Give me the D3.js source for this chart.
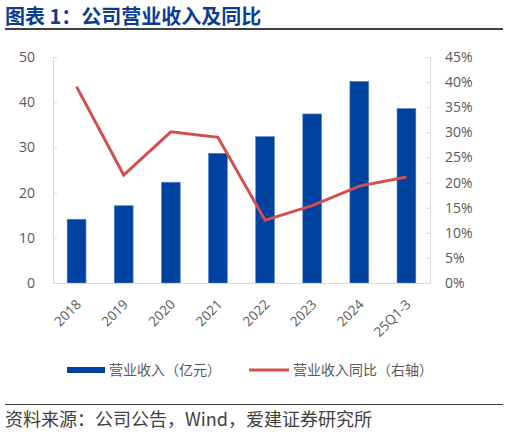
<!DOCTYPE html>
<html><head><meta charset="utf-8">
<script src="https://cdn.jsdelivr.net/npm/d3@7/dist/d3.min.js"></script>
<style>
body{margin:0;background:#fff;}
svg{display:block;font-family:"Noto Sans CJK SC","Noto Sans",sans-serif;}
</style></head>
<body><svg id="c" width="508" height="435"></svg>
<script>
const categories = ["2018","2019","2020","2021","2022","2023","2024","25Q1-3"];
const revenue = [14.1, 17.1, 22.3, 28.7, 32.4, 37.4, 44.6, 38.6];
const growth = [39.1, 21.5, 30.1, 29.0, 12.5, 15.4, 19.3, 21.1];
const leftTicks = [0,10,20,30,40,50];
const rightTicks = [0,5,10,15,20,25,30,35,40,45];
const title = "图表 1：公司营业收入及同比";
const source = "资料来源：公司公告，Wind，爱建证券研究所";
const legendLabels = ["营业收入（亿元）","营业收入同比（右轴）"];

const svg = d3.select("#c");
const L = 53, R = 430, T = 57, B = 283;
const blue = "#0042a0", red = "#d34f4f", grey = "#595959", axisC = "#d9d9d9";

svg.append("text").attr("x",5).attr("y",24).attr("fill","#0a3d91")
  .attr("font-size",20).attr("font-weight","bold").text(title);
svg.append("line").attr("x1",5).attr("x2",503).attr("y1",29).attr("y2",29)
  .attr("stroke","#404040").attr("stroke-width",2);

const x = d3.scaleBand().domain(categories).range([L,R]).paddingInner(0.6).paddingOuter(0.3);
const yL = d3.scaleLinear().domain([0,50]).range([B,T]);
const yR = d3.scaleLinear().domain([0,45]).range([B,T]);

// axes
const gl = svg.append("g").attr("transform",`translate(${L},0)`)
  .call(d3.axisLeft(yL).tickValues(leftTicks).tickSize(-4).tickPadding(18));
const gr = svg.append("g").attr("transform",`translate(${R},0)`)
  .call(d3.axisRight(yR).tickValues(rightTicks).tickSize(-4).tickPadding(15).tickFormat(d=>d+"%"));
[gl,gr].forEach(g=>{
  g.select(".domain").attr("stroke",axisC);
  g.selectAll(".tick line").attr("stroke",axisC);
  g.selectAll(".tick text").attr("fill",grey).attr("font-size",14)
   .attr("font-family","'Open Sans','Noto Sans',sans-serif");
});

// bars
svg.append("g").selectAll("rect").data(revenue).join("rect")
  .attr("x",(d,i)=>x(categories[i])).attr("width",x.bandwidth())
  .attr("y",d=>yL(d)).attr("height",d=>B-yL(d))
  .attr("fill",blue).attr("stroke","#5b87c9").attr("stroke-width",0.6);

// bottom axis
const gb = svg.append("g").attr("transform",`translate(0,${B})`)
  .call(d3.axisBottom(x).tickSize(0).tickFormat(""));
gb.select(".domain").attr("stroke",axisC);
svg.append("g").selectAll("text").data(categories).join("text")
  .attr("transform",d=>`translate(${x(d)+x.bandwidth()/2+2},${B+19}) rotate(-45)`)
  .attr("text-anchor","end").attr("dy","0.35em")
  .attr("fill",grey).attr("font-size",13.5)
  .attr("font-family","'Open Sans','Noto Sans',sans-serif").text(d=>d);

// line
const line = d3.line().x((d,i)=>x(categories[i])+x.bandwidth()/2).y(d=>yR(d));
svg.append("path").datum(growth).attr("d",line).attr("fill","none")
  .attr("stroke",red).attr("stroke-width",3);

// legend
svg.append("rect").attr("x",67).attr("y",367).attr("width",38).attr("height",6).attr("fill",blue);
svg.append("text").attr("x",109).attr("y",375).attr("fill",grey).attr("font-size",14).text(legendLabels[0]);
svg.append("line").attr("x1",249).attr("x2",289).attr("y1",370).attr("y2",370).attr("stroke",red).attr("stroke-width",3);
svg.append("text").attr("x",293).attr("y",375).attr("fill",grey).attr("font-size",14).text(legendLabels[1]);

// footer
svg.append("line").attr("x1",5).attr("x2",503).attr("y1",404.5).attr("y2",404.5).attr("stroke","#404040").attr("stroke-width",1);
svg.append("text").attr("x",5).attr("y",426).attr("fill","#404040").attr("font-size",18).text(source);
</script></body></html>
